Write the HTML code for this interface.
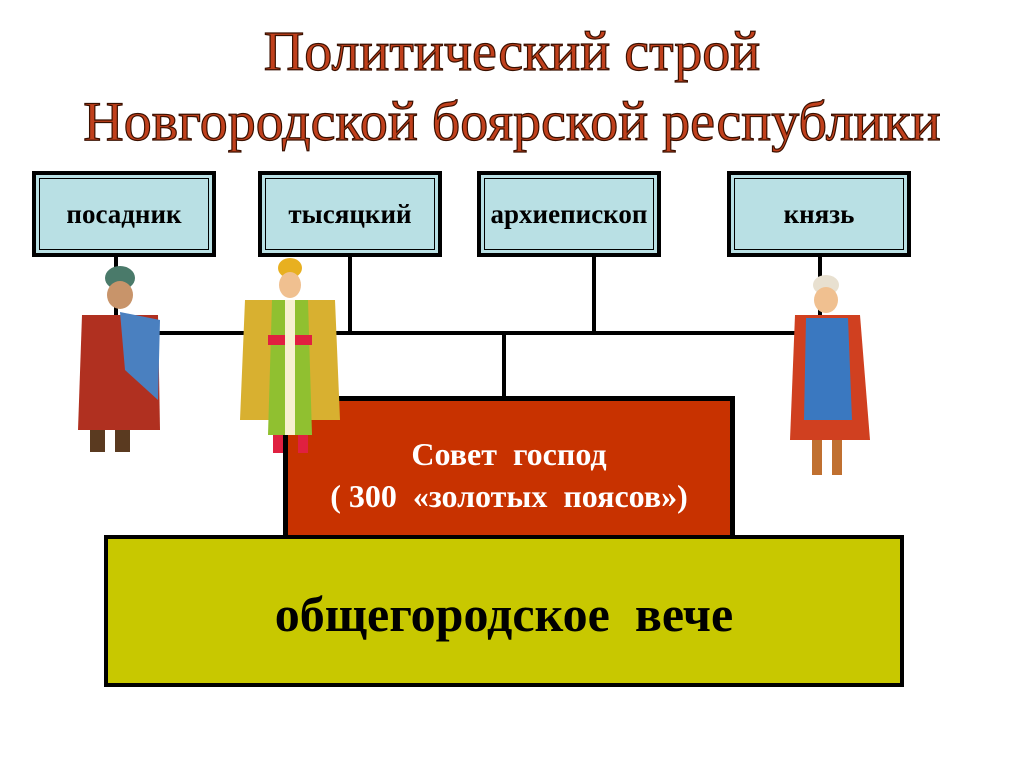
<!DOCTYPE html>
<html><head><meta charset="utf-8"><style>
body{margin:0;width:1024px;height:767px;background:#fff;position:relative;overflow:hidden;font-family:"Liberation Serif",serif}
.t{position:absolute;left:0;width:1024px;text-align:center;color:#c0401c;font-size:56px;line-height:64px;-webkit-text-stroke:1.2px #3a1000}
.b{position:absolute;top:171px;height:78px;width:176px;border:4px solid #000;background:#b9e0e4;box-shadow:inset 0 0 0 3px #b9e0e4,inset 0 0 0 4px #000;text-align:center;line-height:78px;font-weight:bold;font-size:27px}
.l{position:absolute;background:#000}
</style></head><body>
<div class="t" style="top:20px">Политический строй</div>
<div class="t" style="top:90px">Новгородской боярской республики</div>
<div class="l" style="left:114px;top:255px;width:4px;height:80px"></div>
<div class="l" style="left:348px;top:255px;width:4px;height:80px"></div>
<div class="l" style="left:592px;top:255px;width:4px;height:80px"></div>
<div class="l" style="left:818px;top:255px;width:4px;height:80px"></div>
<div class="l" style="left:114px;top:331px;width:708px;height:4px"></div>
<div class="l" style="left:502px;top:331px;width:4px;height:70px"></div>
<div class="b" style="left:32px">посадник</div>
<div class="b" style="left:258px">тысяцкий</div>
<div class="b" style="left:477px">архиепископ</div>
<div class="b" style="left:727px">князь</div>
<div style="position:absolute;left:283px;top:396px;width:442px;height:134px;background:#c83200;border:5px solid #000;color:#fff;font-weight:bold;font-size:32px;text-align:center;line-height:42px;white-space:nowrap">
<div style="margin-top:32px">Совет&nbsp; господ</div><div>( 300&nbsp; «золотых&nbsp; поясов»)</div></div>
<div style="position:absolute;left:104px;top:535px;width:792px;height:144px;background:#c8c800;border:4px solid #000;text-align:center;line-height:150px;font-weight:bold;font-size:50px">общегородское&nbsp; вече</div>
<svg style="position:absolute;left:0;top:0" width="1024" height="767">
<g>
<ellipse cx="120" cy="278" rx="15" ry="12" fill="#4a7a6a"/>
<ellipse cx="120" cy="295" rx="13" ry="14" fill="#c8946a"/>
<path d="M82 315 L158 315 L160 430 L78 430Z" fill="#b03020"/>
<path d="M120 312 L160 320 L158 400 L125 370Z" fill="#4a80c0"/>
<path d="M90 430 h15 v22 h-15z M115 430 h15 v22 h-15z" fill="#5a3a20"/>
</g>
<g>
<ellipse cx="290" cy="268" rx="12" ry="10" fill="#e8b020"/>
<ellipse cx="290" cy="285" rx="11" ry="13" fill="#f0c090"/>
<path d="M245 300 L335 300 L340 420 L240 420Z" fill="#d8b030"/>
<path d="M272 300 L308 300 L312 435 L268 435Z" fill="#90c030"/>
<rect x="268" y="335" width="44" height="10" fill="#e02040"/>
<rect x="285" y="300" width="10" height="135" fill="#f8f0d0"/>
<path d="M273 435 h10 v18 h-10z M298 435 h10 v18 h-10z" fill="#e02040"/>
</g>
<g>
<ellipse cx="826" cy="285" rx="13" ry="10" fill="#e8e0d0"/>
<ellipse cx="826" cy="300" rx="12" ry="13" fill="#f0c090"/>
<path d="M795 315 L860 315 L870 440 L790 440Z" fill="#d04020"/>
<path d="M806 318 L848 318 L852 420 L804 420Z" fill="#3a78c0"/>
<path d="M812 440 h10 v35 h-10z M832 440 h10 v35 h-10z" fill="#c07030"/>
</g>
</svg>
</body></html>
